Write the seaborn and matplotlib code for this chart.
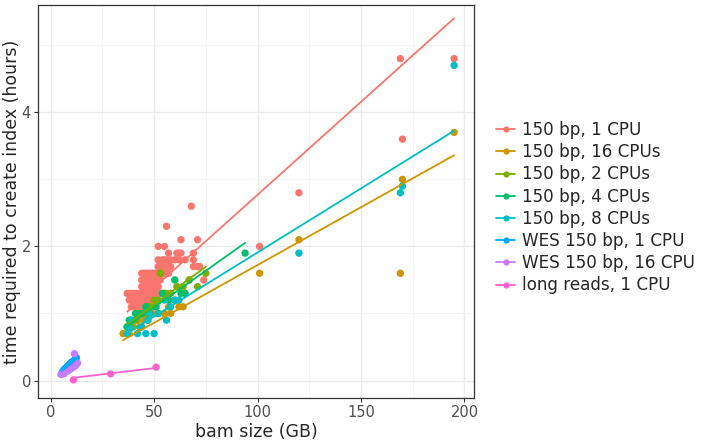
import numpy as np
import pandas as pd
import matplotlib
matplotlib.use("Agg")
import matplotlib.pyplot as plt
import seaborn as sns
from matplotlib.lines import Line2D
from matplotlib.ticker import MultipleLocator

groups = ["150 bp, 1 CPU", "150 bp, 16 CPUs", "150 bp, 2 CPUs", "150 bp, 4 CPUs",
          "150 bp, 8 CPUs", "WES 150 bp, 1 CPU", "WES 150 bp, 16 CPU", "long reads, 1 CPU"]
colors = ["#F8766D", "#CD9600", "#7CAE00", "#00BE67", "#00BFC4", "#00A9FF", "#C77CFF", "#FF61CC"]

# 150 bp, 1 CPU
cpu1_gb = [68, 56, 63, 71, 52, 55,
           57, 61, 62, 63, 69,
           52, 54, 55, 56, 58, 60, 62, 65, 69,
           52, 53, 54, 56, 57, 58, 69, 71, 72,
           44, 45, 46, 47, 48, 49, 50, 51, 52, 53, 54, 55, 56, 57,
           44, 45, 46, 47, 48, 49, 50, 51, 52, 53, 67, 74,
           44, 45, 46, 47, 48, 49, 50, 51, 52,
           37, 38, 39, 40, 41, 42, 43, 44, 45, 46, 47, 48, 49, 50, 51, 52, 53, 54,
           38, 39, 40, 41, 42, 43, 44, 45, 46, 47, 48, 49, 50, 51,
           39, 40, 41, 42, 43, 44, 45, 46, 47, 48,
           101, 120, 169, 170, 195]
cpu1_h = [2.6, 2.3, 2.1, 2.1, 2.0, 2.0,
          1.9, 1.9, 1.9, 1.9, 1.9,
          1.8, 1.8, 1.8, 1.8, 1.8, 1.8, 1.8, 1.8, 1.8,
          1.7, 1.7, 1.7, 1.7, 1.7, 1.7, 1.7, 1.7, 1.7,
          1.6, 1.6, 1.6, 1.6, 1.6, 1.6, 1.6, 1.6, 1.6, 1.6, 1.6, 1.6, 1.6, 1.6,
          1.5, 1.5, 1.5, 1.5, 1.5, 1.5, 1.5, 1.5, 1.5, 1.5, 1.5, 1.5,
          1.4, 1.4, 1.4, 1.4, 1.4, 1.4, 1.4, 1.4, 1.4,
          1.3, 1.3, 1.3, 1.3, 1.3, 1.3, 1.3, 1.3, 1.3, 1.3, 1.3, 1.3, 1.3, 1.3, 1.3, 1.3, 1.3, 1.3,
          1.2, 1.2, 1.2, 1.2, 1.2, 1.2, 1.2, 1.2, 1.2, 1.2, 1.2, 1.2, 1.2, 1.2,
          1.1, 1.1, 1.1, 1.1, 1.1, 1.1, 1.1, 1.1, 1.1, 1.1,
          2.0, 2.8, 4.8, 3.6, 4.8]

# 150 bp, 16 CPUs
cpu16_gb = [35, 38, 40, 42, 43, 45, 47, 48, 49, 52, 55, 57, 58, 60, 62, 64, 53, 56, 46, 50,
            101, 120, 169, 170, 195]
cpu16_h = [0.7, 0.7, 0.8, 0.9, 0.8, 0.9, 0.9, 1.1, 1.0, 1.0, 1.0, 1.1, 1.0, 1.2, 1.1, 1.1, 1.6, 1.3, 1.0, 1.1,
           1.6, 2.1, 1.6, 3.0, 3.7]

# 150 bp, 2 CPUs
cpu2_gb = [37, 39, 41, 43, 45, 48, 50, 52, 55, 58, 61, 64, 67, 71, 75, 53, 47]
cpu2_h = [0.8, 0.8, 0.9, 1.0, 1.0, 1.1, 1.2, 1.2, 1.3, 1.3, 1.4, 1.4, 1.5, 1.4, 1.6, 1.6, 1.1]

# 150 bp, 4 CPUs
cpu4_gb = [37, 38, 39, 41, 44, 46, 48, 51, 54, 57, 60, 63, 65, 94]
cpu4_h = [0.8, 0.9, 0.9, 1.0, 1.0, 1.1, 1.0, 1.1, 1.3, 1.2, 1.5, 1.3, 1.3, 1.9]

# 150 bp, 8 CPUs
cpu8_gb = [37, 38, 39, 42, 44, 46, 47, 48, 50, 52, 55, 56, 58, 60, 62,
           120, 169, 170, 195]
cpu8_h = [0.7, 0.8, 0.9, 0.7, 0.8, 0.7, 0.9, 1.0, 0.7, 1.0, 1.2, 0.9, 1.1, 1.2, 1.2,
          1.9, 2.8, 2.9, 4.7]

# WES 150 bp, 1 CPU
wes1_gb = [5.5, 6.0, 6.5, 7.0, 7.5, 8.0, 8.5, 9.0, 9.5, 10.0, 10.5, 11.0, 12.0, 12.5, 7.2, 8.8]
wes1_h = [0.12, 0.14, 0.16, 0.18, 0.19, 0.21, 0.22, 0.24, 0.25, 0.27, 0.28, 0.29, 0.33, 0.34, 0.15, 0.2]

# WES 150 bp, 16 CPU
wes16_gb = [5.0, 6.0, 7.0, 8.0, 9.0, 10.0, 11.0, 11.5, 13.0, 12.0, 6.5, 8.5]
wes16_h = [0.09, 0.11, 0.13, 0.14, 0.16, 0.18, 0.2, 0.4, 0.26, 0.22, 0.1, 0.15]

# long reads, 1 CPU
long_gb = [11, 29, 51]
long_h = [0.01, 0.1, 0.2]

xs = [cpu1_gb, cpu16_gb, cpu2_gb, cpu4_gb, cpu8_gb, wes1_gb, wes16_gb, long_gb]
ys = [cpu1_h, cpu16_h, cpu2_h, cpu4_h, cpu8_h, wes1_h, wes16_h, long_h]

frames = []
fits = []
for g, x, y in zip(groups, xs, ys):
    frames.append(pd.DataFrame({"bam": x, "hours": y, "group": g}))
    xa, ya = np.asarray(x, float), np.asarray(y, float)
    slope = (xa * ya).sum() / (xa * xa).sum()   # linear fit through the origin (y ~ 0 + x)
    xr = np.array([xa.min(), xa.max()])
    fits.append(pd.DataFrame({"bam": xr, "hours": slope * xr, "group": g}))
df = pd.concat(frames, ignore_index=True)
fit_df = pd.concat(fits, ignore_index=True)

sns.set_style("white")
plt.rcParams['font.family'] = ['DejaVu Sans']

W, H = 705, 441
fig = plt.figure(figsize=(W / 100, H / 100), dpi=100)
ax = fig.add_axes([38 / W, (441 - 398) / H, (474 - 38) / W, (398 - 5) / H])

sns.scatterplot(data=df, x="bam", y="hours", hue="group", hue_order=groups,
                palette=colors, s=28, linewidth=0, ax=ax, legend=False, zorder=3)
sns.lineplot(data=fit_df, x="bam", y="hours", hue="group", hue_order=groups,
             palette=colors, lw=1.3, ax=ax, legend=False, estimator=None,
             sort=True, zorder=4)

ax.set_xlim(-6.1, 204.6)
ax.set_ylim(-0.26, 5.6)
ax.xaxis.set_major_locator(MultipleLocator(50))
ax.xaxis.set_minor_locator(MultipleLocator(25))
ax.yaxis.set_major_locator(MultipleLocator(2))
ax.yaxis.set_minor_locator(MultipleLocator(1))
ax.grid(True, which="major", color="#EBEBEB", lw=1.0, zorder=0)
ax.grid(True, which="minor", color="#F4F4F4", lw=0.6, zorder=0)
ax.set_axisbelow(True)
for sp in ax.spines.values():
    sp.set_visible(True)
    sp.set_color("#333333")
    sp.set_linewidth(0.9)
ax.tick_params(axis="both", which="major", length=3, width=0.8, color="#333333",
               labelsize=10.5, labelcolor="#4D4D4D", pad=2, left=True, bottom=True)
ax.tick_params(axis="both", which="minor", length=0)
ax.set_xlabel("bam size (GB)", fontsize=12.5, labelpad=2)
ax.set_ylabel("time required to create index (hours)", fontsize=12.5)
ax.yaxis.set_label_coords(-0.04, 0.5)

handles = [Line2D([0], [0], color=c, lw=1.3, marker="o", markersize=4.5,
                  markeredgewidth=0) for c in colors]
fig.legend(handles, groups, loc="upper left", bbox_to_anchor=(496 / W, 1 - 121 / H),
           frameon=False, fontsize=12.1, handlelength=1.15, handletextpad=0.4,
           labelspacing=0.25, borderaxespad=0, borderpad=0)

fig.savefig("out.png", dpi=100)
